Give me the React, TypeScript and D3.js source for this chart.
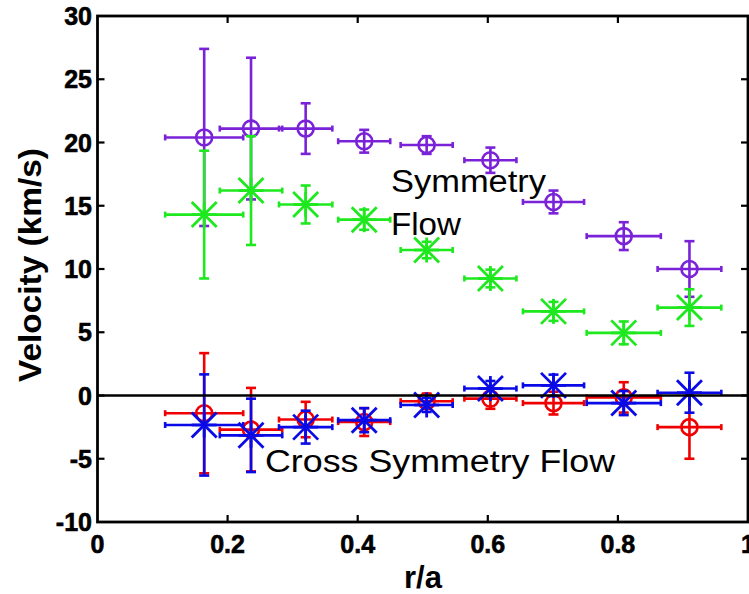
import React from "react";
import * as d3 from "d3";

const W = 749;
const H = 594;

// r/a positions and horizontal half-widths (shared by all series)
const rPos = [0.164, 0.236, 0.32, 0.41, 0.506, 0.604, 0.701, 0.809, 0.91];
const rErr = [0.06, 0.048, 0.041, 0.04, 0.04, 0.04, 0.047, 0.057, 0.049];

// Symmetry flow (purple, circles)
const symA = [20.4, 21.1, 21.1, 20.1, 19.8, 18.6, 15.3, 12.6, 10.0];
const symAErr = [7.0, 5.6, 2.0, 0.9, 0.7, 1.0, 0.9, 1.1, 2.2];
// Symmetry flow (green, stars)
const symB = [14.3, 16.2, 15.1, 13.9, 11.5, 9.25, 6.65, 4.95, 6.95];
const symBErr = [5.05, 4.3, 1.5, 0.8, 0.65, 0.7, 0.75, 0.9, 1.45];
// Cross symmetry flow (red, circles)
const crossA = [-1.4, -2.7, -1.9, -2.1, -0.45, -0.25, -0.6, -0.15, -2.5];
const crossAErr = [4.75, 3.3, 1.4, 1.1, 0.6, 0.8, 0.9, 1.2, 2.5];
// Cross symmetry flow (blue, stars)
const crossB = [-2.33, -3.15, -2.5, -1.95, -0.75, 0.55, 0.8, -0.6, 0.22];
const crossBErr = [4.0, 2.9, 1.3, 0.95, 0.55, 0.6, 0.85, 0.95, 1.58];

const xTicks = [0, 0.2, 0.4, 0.6, 0.8, 1];
const xTickLabels = ["0", "0.2", "0.4", "0.6", "0.8", "1"];
const yTicks = [-10, -5, 0, 5, 10, 15, 20, 25, 30];

const FONT = "'Liberation Sans', Arial, Helvetica, sans-serif";

type Series = { vals: number[]; errs: number[]; color: string; marker: "circle" | "star" };

const series: Series[] = [
  { vals: symA, errs: symAErr, color: "#7a22d8", marker: "circle" },
  { vals: symB, errs: symBErr, color: "#1ee81e", marker: "star" },
  { vals: crossA, errs: crossAErr, color: "#f00000", marker: "circle" },
  { vals: crossB, errs: crossBErr, color: "#0a0ae6", marker: "star" },
];

export default function App() {
  const x = d3.scaleLinear().domain([0, 1]).range([97.5, 748]);
  const y = d3.scaleLinear().domain([-10, 30]).range([522, 16]);
  const x0 = x(0), x1 = x(1), yTop = y(30), yBot = y(-10);
  const tickLen = 7;
  const cap = 5;
  const vcap = 3;
  const lw = 2.6;

  return (
    <svg
      width={W}
      height={H}
      style={{ position: "absolute", left: 0, top: 0, background: "#fff" }}
      fontFamily={FONT}
    >
      <rect x={0} y={0} width={W} height={H} fill="#fff" />

      {/* data */}
      {series.map((s, si) => (
        <g key={si} stroke={s.color} fill="none" strokeWidth={lw}>
          {s.vals.map((v, i) => {
            const cx = x(rPos[i]);
            const cy = y(v);
            const xl = x(rPos[i] - rErr[i]);
            const xr = x(rPos[i] + rErr[i]);
            const yt = y(v + s.errs[i]);
            const yb = y(v - s.errs[i]);
            const a = 12.5;
            return (
              <g key={i}>
                <line x1={cx} x2={cx} y1={yt} y2={yb} />
                <line x1={cx - cap} x2={cx + cap} y1={yt} y2={yt} />
                <line x1={cx - cap} x2={cx + cap} y1={yb} y2={yb} />
                <line x1={xl} x2={xr} y1={cy} y2={cy} />
                <line x1={xl} x2={xl} y1={cy - vcap} y2={cy + vcap} />
                <line x1={xr} x2={xr} y1={cy - vcap} y2={cy + vcap} />
                {s.marker === "circle" ? (
                  <circle cx={cx} cy={cy} r={8} strokeWidth={2.6} />
                ) : (
                  <g strokeWidth={2.8}>
                    <line x1={cx - a} y1={cy - a} x2={cx + a} y2={cy + a} />
                    <line x1={cx - a} y1={cy + a} x2={cx + a} y2={cy - a} />
                    <line x1={cx} y1={cy - a} x2={cx} y2={cy + a} />
                    <line x1={cx - a} y1={cy} x2={cx + a} y2={cy} />
                  </g>
                )}
              </g>
            );
          })}
        </g>
      ))}

      {/* zero line */}
      <line x1={x0} x2={x1} y1={y(0)} y2={y(0)} stroke="#000" strokeWidth={2.4} />

      {/* ticks */}
      <g stroke="#000" strokeWidth={2.2}>
        {xTicks.slice(1, -1).map((t) => (
          <g key={"xt" + t}>
            <line x1={x(t)} x2={x(t)} y1={yBot} y2={yBot - tickLen} />
            <line x1={x(t)} x2={x(t)} y1={yTop} y2={yTop + tickLen} />
          </g>
        ))}
        {yTicks.slice(1, -1).map((t) => (
          <g key={"yt" + t}>
            <line x1={x0} x2={x0 + tickLen} y1={y(t)} y2={y(t)} />
            <line x1={x1} x2={x1 - tickLen} y1={y(t)} y2={y(t)} />
          </g>
        ))}
      </g>

      {/* frame */}
      <rect x={x0} y={yTop} width={x1 - x0} height={yBot - yTop} fill="none" stroke="#000" strokeWidth={2.8} />

      {/* tick labels */}
      <g fontSize={25} fontWeight="bold" fill="#000" stroke="#000" strokeWidth={0.6}>
        {xTicks.map((t, i) => (
          <text key={"xl" + t} x={x(t)} y={553} textAnchor="middle">
            {xTickLabels[i]}
          </text>
        ))}
        {yTicks.map((t) => (
          <text key={"yl" + t} x={92} y={y(t) + 9} textAnchor="end">
            {t}
          </text>
        ))}
      </g>

      {/* axis labels */}
      <text x={423} y={588} fontSize={31} fontWeight="bold" textAnchor="middle" fill="#000">
        r/a
      </text>
      <text
        transform={`translate(41, 265) rotate(-90)`}
        fontSize={31}
        fontWeight="bold"
        textAnchor="middle"
        fill="#000"
        textLength={234}
        lengthAdjust="spacingAndGlyphs"
      >
        Velocity (km/s)
      </text>

      {/* annotations */}
      <g fontSize={31} fill="#000">
        <text x={391} y={192} textLength={155} lengthAdjust="spacingAndGlyphs">Symmetry</text>
        <text x={391} y={235} textLength={70} lengthAdjust="spacingAndGlyphs">Flow</text>
        <text x={265} y={472} textLength={350} lengthAdjust="spacingAndGlyphs">Cross Symmetry Flow</text>
      </g>
    </svg>
  );
}
